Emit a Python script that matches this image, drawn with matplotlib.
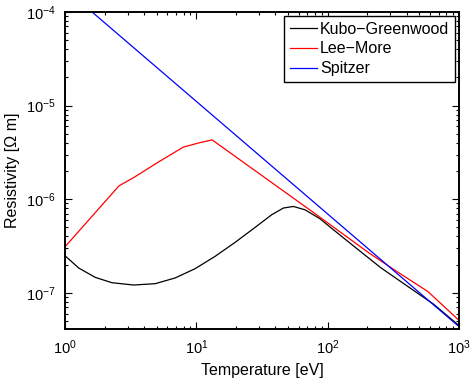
import matplotlib
matplotlib.use('Agg')
import matplotlib.pyplot as plt
from matplotlib.ticker import LogLocator, NullFormatter

plt.rcParams['font.family'] = ['Liberation Sans', 'DejaVu Sans']
plt.rcParams['mathtext.fontset'] = 'custom'
plt.rcParams['mathtext.rm'] = 'Liberation Sans'
plt.rcParams['mathtext.it'] = 'Liberation Sans:italic'
plt.rcParams['mathtext.bf'] = 'Liberation Sans:bold'

# values (T in eV, resistivity in Ohm m)
kg_T = [1, 1.27, 1.70, 2.28, 3.33, 4.86, 6.9, 9.8, 13.9, 19.7, 28, 37.5, 46,
        54.8, 67.2, 87.4, 105, 150, 254, 400, 644, 1000]
kg_rho = [2.49e-7, 1.84e-7, 1.46e-7, 1.28e-7, 1.21e-7, 1.25e-7, 1.44e-7, 1.81e-7,
          2.45e-7, 3.45e-7, 4.99e-7, 6.82e-7, 8.04e-7, 8.36e-7, 7.7e-7, 6.18e-7,
          5.0e-7, 3.34e-7, 1.85e-7, 1.19e-7, 7.5e-8, 4.46e-8]

lm_T = [1, 2.58, 3.31, 5.04, 7.95, 10.5, 13.2, 78, 205, 319, 580, 1000]
lm_rho = [3.1e-7, 1.39e-6, 1.69e-6, 2.45e-6, 3.6e-6, 4.0e-6, 4.3e-6, 7.2e-7,
          2.68e-7, 1.77e-7, 1.03e-7, 5.07e-8]

sp_T = [1, 1000]
sp_rho = [1.77e-4, 4.35e-8]

fig = plt.figure(figsize=(4.72, 3.85), dpi=100)
ax = fig.add_axes([65 / 472, 1 - 329 / 385, (459 - 65) / 472, (329 - 12) / 385])

ax.loglog(kg_T, kg_rho, color='black', lw=0.9, label='Kubo\u2212Greenwood')
ax.loglog(lm_T, lm_rho, color='red', lw=0.9, label='Lee\u2212More')
ax.loglog(sp_T, sp_rho, color='blue', lw=0.9, label='Spitzer')

ax.set_xlim(1, 1000)
ax.set_ylim(4.1e-8, 1e-4)
ax.set_xlabel('Temperature [eV]', fontsize=11.5, labelpad=4)
ax.set_ylabel('Resistivity [\u03a9 m]', fontsize=11.5, labelpad=4)

ax.xaxis.set_major_locator(LogLocator(base=10, numticks=10))
ax.yaxis.set_major_locator(LogLocator(base=10, numticks=10))
ax.xaxis.set_minor_locator(LogLocator(base=10, subs=range(2, 10), numticks=20))
ax.yaxis.set_minor_locator(LogLocator(base=10, subs=range(2, 10), numticks=20))
ax.yaxis.set_minor_formatter(NullFormatter())
ax.xaxis.set_minor_formatter(NullFormatter())
ax.tick_params(which='both', direction='in', top=True, right=True, labelsize=10.5, width=0.8)
ax.tick_params(which='major', length=5, pad=7)
ax.tick_params(which='minor', length=2.5)
for s in ax.spines.values():
    s.set_linewidth(1.4)

leg = ax.legend(loc='upper right', bbox_to_anchor=(455 / 472, 1 - 16 / 385),
                bbox_transform=fig.transFigure, borderaxespad=0, fontsize=11.5,
                fancybox=False, framealpha=1, edgecolor='black',
                handlelength=1.7, handletextpad=0.2, labelspacing=0.3,
                borderpad=0.35)
leg.get_frame().set_linewidth(1.0)

fig.savefig('out.png', dpi=100)
